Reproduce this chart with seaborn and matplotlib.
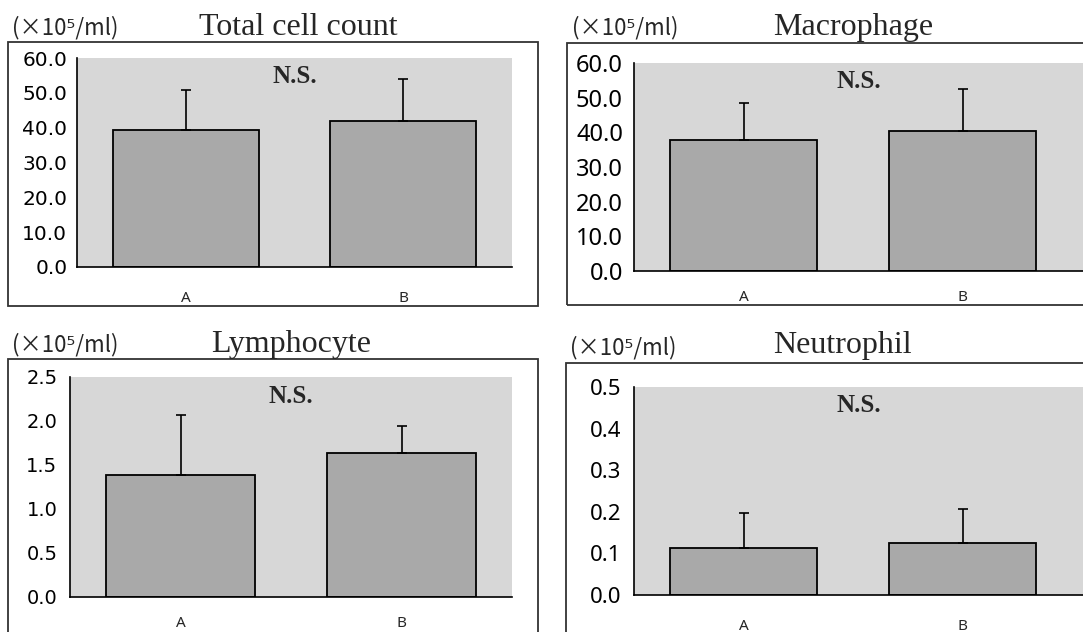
import matplotlib
matplotlib.use("Agg")
import matplotlib.pyplot as plt
from matplotlib.patches import Rectangle
import seaborn as sns
import pandas as pd

# ---- data ----
groups = ["A", "B"]
total_mean = [39.4, 42.0]
total_sd = [11.4, 12.1]
mac_mean = [37.8, 40.5]
mac_sd = [10.6, 11.9]
lym_mean = [1.39, 1.64]
lym_sd = [0.68, 0.30]
neu_mean = [0.114, 0.126]
neu_sd = [0.084, 0.081]

titles = ["Total cell count", "Macrophage", "Lymphocyte", "Neutrophil"]
unit_label = "(×10⁵/ml)"
sig_label = "N.S."
yticks_total = [0, 10, 20, 30, 40, 50, 60]
yticks_mac = [0, 10, 20, 30, 40, 50, 60]
yticks_lym = [0, 0.5, 1.0, 1.5, 2.0, 2.5]
yticks_neu = [0, 0.1, 0.2, 0.3, 0.4, 0.5]

sns.set_style("white")
plt.rcParams["font.family"] = ["Noto Sans", "DejaVu Sans"]

W, H = 1083, 632
fig = plt.figure(figsize=(W / 100, H / 100), dpi=100)
fig.patch.set_facecolor("white")

BG = "#d7d7d7"
BAR = "#a9a9a9"


def fx(x):
    return x / W


def fy(y):
    return 1 - y / H


def frame(x0, y0, x1, y1):
    fig.patches.append(Rectangle((fx(x0), fy(y1)), fx(x1) - fx(x0), fy(y0) - fy(y1),
                                 transform=fig.transFigure, fill=False,
                                 edgecolor="#333333", lw=1.3, zorder=0))


panels = [
    dict(m=total_mean, s=total_sd, t=yticks_total, title=titles[0],
         box=(77, 58, 512, 267), outer=(8, 42, 538, 306), xmax=1.5,
         unit=(12, 28), tpos=(298, 35), tfont=dict(family="DejaVu Sans", fontsize=14.5),
         pad=7, xpad=17),
    dict(m=mac_mean, s=mac_sd, t=yticks_mac, title=titles[1],
         box=(634, 63, 1083, 271), outer=(567, 43, 1095, 305), xmax=1.55,
         unit=(572, 28), tpos=(853, 35), tfont=dict(family="Noto Sans", fontsize=17),
         pad=8, xpad=14),
    dict(m=lym_mean, s=lym_sd, t=yticks_lym, title=titles[2],
         box=(70, 377, 512, 597), outer=(8, 359, 538, 660), xmax=1.5,
         unit=(12, 345), tpos=(291, 352), tfont=dict(family="DejaVu Sans", fontsize=14),
         pad=9, xpad=14),
    dict(m=neu_mean, s=neu_sd, t=yticks_neu, title=titles[3],
         box=(634, 387, 1083, 595), outer=(566, 363, 1095, 660), xmax=1.55,
         unit=(570, 348), tpos=(842, 353),
         tfont=dict(family="Noto Sans", fontsize=16),
         pad=9, xpad=17),
]

for p in panels:
    frame(*p["outer"])
    x0, y0, x1, y1 = p["box"]
    ax = fig.add_axes([fx(x0), fy(y1), fx(x1) - fx(x0), fy(y0) - fy(y1)])
    ax.set_facecolor(BG)
    df = pd.DataFrame({"group": groups, "value": p["m"]})
    sns.barplot(data=df, x="group", y="value", ax=ax, color=BAR,
                edgecolor="black", linewidth=1.3, width=0.67, errorbar=None,
                saturation=1)
    ax.errorbar(x=[0, 1], y=p["m"], yerr=[[0, 0], p["s"]], fmt="none",
                ecolor="black", elinewidth=1.2, capsize=3.5, capthick=1.2, zorder=5)
    ax.set_xlim(-0.5, p["xmax"])
    ax.set_ylim(0, p["t"][-1])
    ax.set_yticks(p["t"])
    ax.set_yticklabels([f"{v:.1f}" for v in p["t"]], **p["tfont"])
    ax.tick_params(axis="y", direction="in", length=4, width=1, pad=p["pad"], colors="black")
    ax.set_xticks([-0.5, 0.5, 1.5])
    ax.set_xticklabels([])
    ax.set_xticks([0, 1], minor=True)
    ax.set_xticklabels(groups, minor=True, fontsize=11)
    ax.tick_params(axis="x", which="major", direction="in", length=4, width=1)
    ax.tick_params(axis="x", which="minor", length=0, pad=p["xpad"])
    ax.set_xlabel("")
    ax.set_ylabel("")
    for side in ["top", "right"]:
        ax.spines[side].set_visible(False)
    for side in ["left", "bottom"]:
        ax.spines[side].set_visible(True)
        ax.spines[side].set_color("black")
        ax.spines[side].set_linewidth(1.2)
    ax.text(0.5, 0.91, sig_label, transform=ax.transAxes, ha="center", va="center",
            family="Liberation Serif", fontweight="bold", fontsize=18)
    ux, uy = p["unit"]
    fig.text(fx(ux), fy(uy), unit_label, ha="left", va="center", fontsize=16,
             family=["Noto Sans CJK JP", "DejaVu Sans"])
    tx, ty = p["tpos"]
    fig.text(fx(tx), fy(ty), p["title"], ha="center", va="baseline", fontsize=23,
             family="Liberation Serif")

fig.savefig("out.png", dpi=100)
